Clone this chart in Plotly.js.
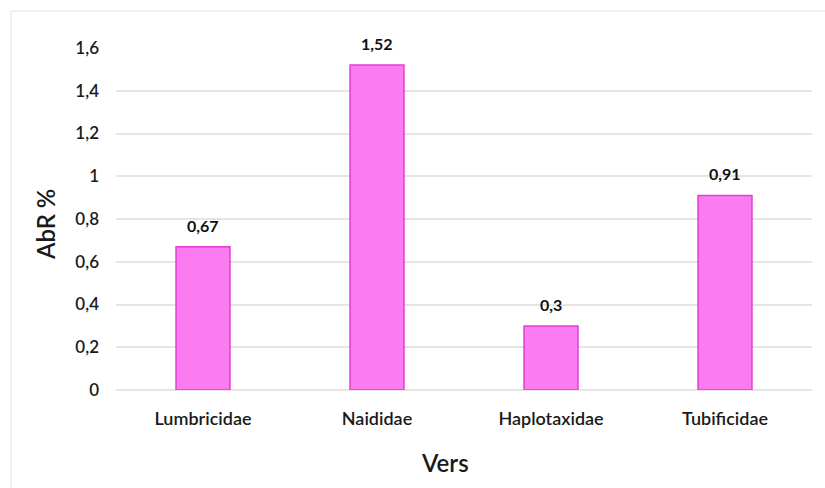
<!DOCTYPE html>
<html>
<head>
<meta charset="utf-8">
<script src="https://cdn.plot.ly/plotly-3.0.1.min.js"></script>
<style>html,body{margin:0;padding:0;background:#fff;}#chart{width:825px;height:488px;}</style>
</head>
<body>
<div id="chart"></div>
<script>
const categories = ["Lumbricidae", "Naididae", "Haplotaxidae", "Tubificidae"];
const values = [0.67, 1.52, 0.3, 0.91];
const yTickValues = [0, 0.2, 0.4, 0.6, 0.8, 1, 1.2, 1.4, 1.6];
const yTickLabels = ["0", "0,2", "0,4", "0,6", "0,8", "1", "1,2", "1,4", "1,6"];
const valueLabels = values.map(v => String(v).replace('.', ','));

const fontFam = "Lato, 'Open Sans', sans-serif";

const trace = {
  type: 'bar',
  x: categories,
  y: values,
  marker: {color: '#fc7bf0', line: {color: '#e23fd2', width: 1.5}},
  hoverinfo: 'none'
};

const valueAnnotations = categories.map((c, i) => ({
  x: c, y: values[i], xref: 'x', yref: 'y',
  text: valueLabels[i], showarrow: false,
  yanchor: 'bottom', yshift: 10,
  font: {family: fontFam, size: 16, color: '#111', weight: 'bold'}
}));

const layout = {
  width: 825, height: 488,
  margin: {l: 116, r: 13, t: 48, b: 98},
  paper_bgcolor: '#fff', plot_bgcolor: '#fff',
  bargap: 0.69,
  showlegend: false,
  font: {family: fontFam, color: '#222'},
  xaxis: {
    tickfont: {size: 18, color: '#1a1a1a', family: fontFam, weight: 600},
    ticks: '', showline: false, showgrid: false, zeroline: false,
    ticklabelstandoff: 16
  },
  yaxis: {
    range: [0, 1.6],
    tickvals: yTickValues, ticktext: yTickLabels,
    tickfont: {size: 17, color: '#1a1a1a', family: fontFam, weight: 600},
    showgrid: true, gridcolor: '#e8e4df', gridwidth: 2,
    zeroline: true, zerolinecolor: '#e8e4df', zerolinewidth: 2,
    showline: false, ticks: '', ticklen: 0,
    ticklabelstandoff: 16
  },
  annotations: valueAnnotations.concat([
    {xref: 'paper', yref: 'paper', x: (445 - 116) / 696, y: (390 - 462) / 342, xanchor: 'center', yanchor: 'middle',
     text: 'Vers', showarrow: false, font: {family: fontFam, size: 24, color: '#1a1a1a', weight: 600}},
    {xref: 'paper', yref: 'paper', x: (45 - 116) / 696, y: (390 - 225) / 342, xanchor: 'center', yanchor: 'middle',
     text: 'AbR %', textangle: -90, showarrow: false, font: {family: fontFam, size: 24, color: '#1a1a1a', weight: 600}}
  ]),
  shapes: [
    {type: 'line', xref: 'paper', yref: 'paper', x0: -0.151, x1: 1.02, y0: 1.108, y1: 1.108, line: {color: '#eeebe7', width: 1.5}},
    {type: 'line', xref: 'paper', yref: 'paper', x0: -0.151, x1: -0.151, y0: 1.108, y1: -0.3, line: {color: '#eeebe7', width: 1.5}}
  ]
};

Plotly.newPlot('chart', [trace], layout, {displayModeBar: false, staticPlot: true});
</script>
</body>
</html>
